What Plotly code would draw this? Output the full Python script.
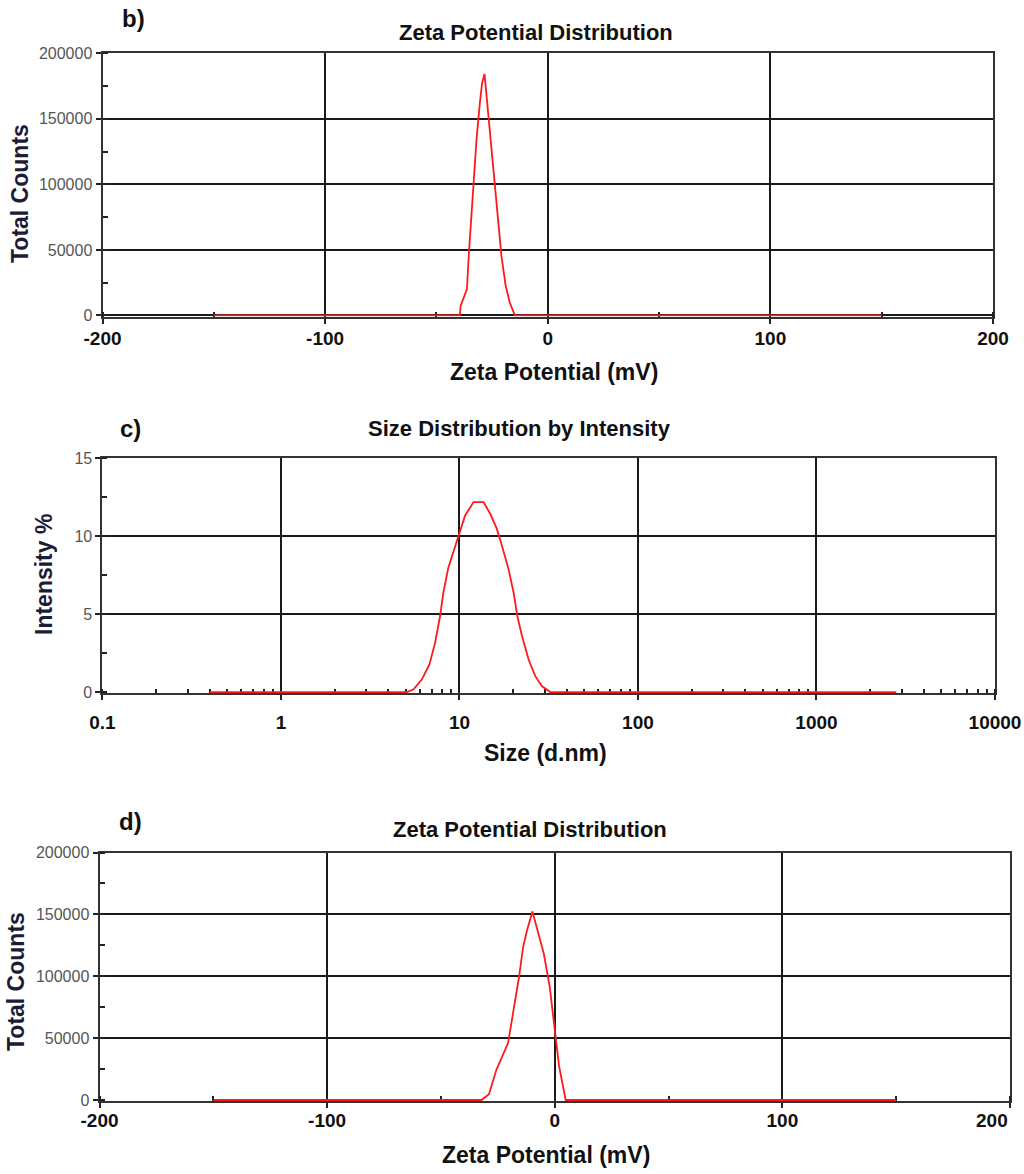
import plotly.graph_objects as go

# ---------------- data ----------------
# b) Zeta potential distribution
zeta_b_mv = [-150, -39.5, -39.1, -36.3, -35.5, -34.7, -33.6, -32.0, -30.5, -29.5,
             -28.4, -27.3, -25.6, -23.8, -22.3, -20.8, -18.9, -17.1, -14.8, 150]
counts_b = [0, 0, 7500, 20100, 45400, 65700, 101200, 134100, 162000, 177200,
            184300, 164500, 136600, 103700, 73300, 45400, 22600, 10000, 0, 0]

# c) Size distribution by intensity
size_c_nm = [0.4, 5.07, 5.52, 6.15, 6.79, 7.31, 7.79, 8.13, 8.67, 9.46, 10.0, 10.76,
             11.99, 13.65, 14.87, 16.21, 17.3, 18.84, 20.1, 21.1, 22.4, 24.4, 26.6,
             29.0, 32.3, 2800]
intensity_c = [0, 0, 0.16, 0.8, 1.77, 3.17, 4.88, 6.39, 8.0, 9.39, 10.26, 11.33,
               12.19, 12.19, 11.44, 10.47, 9.39, 7.89, 6.39, 4.88, 3.6, 2.09, 1.02,
               0.37, 0, 0]

# d) Zeta potential distribution
zeta_d_mv = [-150, -32.2, -28.9, -25.6, -20.5, -18.3, -15.7, -13.9, -12.2, -9.8,
             -7.3, -4.8, -2.2, 0.0, 1.9, 4.8, 150]
counts_d = [0, 0, 4600, 24600, 46000, 70100, 99400, 123500, 136900, 152400,
            135500, 118200, 91400, 54000, 27300, 0, 0]

zeta_ticks = [-200, -100, 0, 100, 200]
zeta_tick_text = ["-200", "-100", "0", "100", "200"]
counts_ticks = [0, 50000, 100000, 150000, 200000]
counts_tick_text = ["0", "50000", "100000", "150000", "200000"]
size_ticks = [0.1, 1, 10, 100, 1000, 10000]
size_tick_text = ["0.1", "1", "10", "100", "1000", "10000"]
intensity_ticks = [0, 5, 10, 15]
intensity_tick_text = ["0", "5", "10", "15"]

panel_labels = ["b)", "c)", "d)"]
titles = ["Zeta Potential Distribution", "Size Distribution by Intensity",
          "Zeta Potential Distribution"]
x_titles = ["Zeta Potential (mV)", "Size (d.nm)", "Zeta Potential (mV)"]
y_titles = ["Total Counts", "Intensity %", "Total Counts"]

# ---------------- layout helpers ----------------
W, H = 1024, 1174
FONT = "Liberation Sans, Arial, Helvetica, sans-serif"


def px(x):
    return x / W


def py(y):
    return 1 - y / H


fig = go.Figure()
line = dict(color="#ff1a1a", width=1.8)
fig.add_trace(go.Scatter(x=zeta_b_mv, y=counts_b, mode="lines", line=line,
                         xaxis="x", yaxis="y", showlegend=False))
fig.add_trace(go.Scatter(x=size_c_nm, y=intensity_c, mode="lines", line=line,
                         xaxis="x2", yaxis="y2", showlegend=False))
fig.add_trace(go.Scatter(x=zeta_d_mv, y=counts_d, mode="lines", line=line,
                         xaxis="x3", yaxis="y3", showlegend=False))

common = dict(showline=True, linecolor="#333333", linewidth=2, mirror=True,
              showgrid=True, gridcolor="#1a1a1a", gridwidth=1.6, zeroline=False,
              ticks="outside", ticklen=5, tickcolor="#222222", tickwidth=1.5,
              layer="below traces", fixedrange=True, automargin=False,
              ticklabeloverflow="allow")
xfont = dict(family=FONT, size=19, color="#111111", weight="bold")
yfont = dict(family=FONT, size=16, color="#555555")
minor_common = dict(ticks="inside", ticklen=5, tickcolor="#222222", tickwidth=1.5,
                    showgrid=False)

# panel geometry (pixels): x0, x1, ytop, ybottom
geo = [(102.5, 993, 53.3, 316.5), (102.4, 995, 458.3, 693), (99.5, 1010, 852.5, 1101)]

# panel d: the last label is drawn shifted inward (as in the reference)
zeta_tick_text_d = zeta_tick_text[:-1] + [""]

fig.update_layout(
    template="none",
    width=W, height=H, margin=dict(l=0, r=0, t=0, b=0, autoexpand=False),
    paper_bgcolor="white", plot_bgcolor="white",
    xaxis=dict(common, domain=[px(geo[0][0]), px(geo[0][1])], anchor="y",
               range=[-200, 200], tickvals=zeta_ticks, ticktext=zeta_tick_text,
               tickfont=xfont, ticklabelstandoff=-1,
               minor=dict(minor_common, dtick=50)),
    yaxis=dict(common, domain=[py(geo[0][3]), py(geo[0][2])], anchor="x",
               range=[-800, 200000], tickvals=counts_ticks,
               ticktext=counts_tick_text, tickfont=yfont,
               minor=dict(minor_common, dtick=25000, tick0=0)),
    xaxis2=dict(common, type="log", domain=[px(geo[1][0]), px(geo[1][1])],
                anchor="y2", range=[-1, 4], tickvals=size_ticks,
                ticktext=size_tick_text, tickfont=xfont, ticklabelstandoff=6,
                minor=dict(minor_common, dtick="D1", ticklen=4)),
    yaxis2=dict(common, domain=[py(geo[1][3]), py(geo[1][2])], anchor="x2",
                range=[-0.06, 15], tickvals=intensity_ticks,
                ticktext=intensity_tick_text, tickfont=yfont,
                minor=dict(minor_common, dtick=2.5, tick0=0)),
    xaxis3=dict(common, domain=[px(geo[2][0]), px(geo[2][1])], anchor="y3",
                range=[-200, 200], tickvals=zeta_ticks, ticktext=zeta_tick_text_d,
                tickfont=xfont, ticklabelstandoff=-4,
                minor=dict(minor_common, dtick=50)),
    yaxis3=dict(common, domain=[py(geo[2][3]), py(geo[2][2])], anchor="x3",
                range=[-800, 200000], tickvals=counts_ticks,
                ticktext=counts_tick_text, tickfont=yfont,
                minor=dict(minor_common, dtick=25000, tick0=0)),
)

# text positions (pixels)
label_pos = [(133, 18), (130, 428), (130, 821)]
title_pos = [(536, 32), (519, 428), (530, 829)]
xtitle_pos = [(554, 372), (545, 753), (546, 1155)]
ytitle_pos = [(20, 194), (44, 575), (16, 982)]

ann = []
for i in range(3):
    ann.append(dict(text=panel_labels[i], x=px(label_pos[i][0]), y=py(label_pos[i][1]),
                    xref="paper", yref="paper", showarrow=False,
                    xanchor="center", yanchor="middle",
                    font=dict(family=FONT, size=24, color="#111111", weight="bold")))
    ann.append(dict(text=titles[i], x=px(title_pos[i][0]), y=py(title_pos[i][1]),
                    xref="paper", yref="paper", showarrow=False,
                    xanchor="center", yanchor="middle",
                    font=dict(family=FONT, size=22, color="#111111", weight="bold")))
    ann.append(dict(text=x_titles[i], x=px(xtitle_pos[i][0]), y=py(xtitle_pos[i][1]),
                    xref="paper", yref="paper", showarrow=False,
                    xanchor="center", yanchor="middle",
                    font=dict(family=FONT, size=23, color="#111111", weight="bold")))
    ann.append(dict(text=y_titles[i], x=px(ytitle_pos[i][0]), y=py(ytitle_pos[i][1]),
                    xref="paper", yref="paper", showarrow=False, textangle=-90,
                    xanchor="center", yanchor="middle",
                    font=dict(family=FONT, size=23, color="#1c1c38", weight="bold")))
# shifted last tick label of panel d
ann.append(dict(text=zeta_tick_text[-1], x=px(992), y=py(1120),
                xref="paper", yref="paper", showarrow=False,
                xanchor="center", yanchor="middle", font=xfont))
fig.update_layout(annotations=ann)

fig.write_html(
    "out.html",
    config={"displayModeBar": False},
    post_script="document.body.style.margin='0px';document.body.style.overflow='hidden';",
)
